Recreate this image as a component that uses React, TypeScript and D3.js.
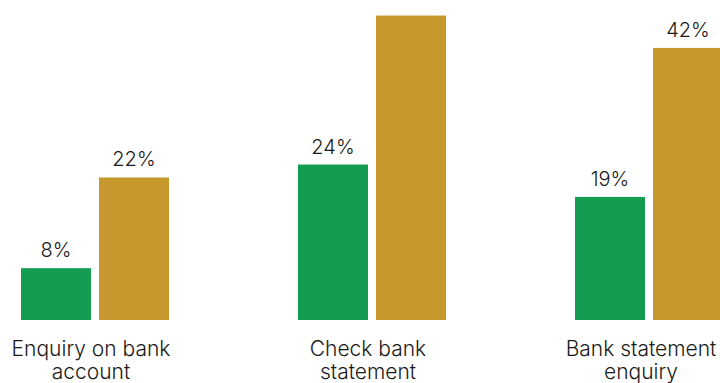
import React from "react";
import * as d3 from "d3";

const categories = [["Enquiry on bank", "account"], ["Check bank", "statement"], ["Bank statement", "enquiry"]];
const categoryKeys = ["Enquiry on bank account", "Check bank statement", "Bank statement enquiry"];
const seriesKeys = ["A", "B"];
const seriesA = [8, 24, 19];
const seriesB = [22, 47, 42];
const showLabelB = [true, false, true];
const colors = ["#139c52", "#c7982d"];

const W = 720;
const H = 383;

export default function App() {
  const x = d3.scalePoint<string>().domain(categoryKeys).range([95, 649]);
  const xInner = d3.scaleBand<string>().domain(seriesKeys).range([-74, 74]).paddingInner(8 / 78).paddingOuter(0);
  const y = d3.scaleLinear().domain([0, 49.4]).range([320, 0]);
  const series = [seriesA, seriesB];
  const font = "Inter, 'Noto Sans', sans-serif";

  return (
    <svg width={W} height={H} style={{ position: "absolute", left: 0, top: 0, background: "#fff" }} fontFamily={font}>
      {categoryKeys.map((c, i) => {
        const cx = x(c)!;
        const lx = Math.min(cx - 4, W - 79) - cx;
        return (
          <g key={c} transform={`translate(${cx},0)`}>
            {seriesKeys.map((s, si) => {
              const v = series[si][i];
              const bx = xInner(s)!;
              const bw = xInner.bandwidth();
              const show = si === 0 || showLabelB[i];
              return (
                <g key={s}>
                  <rect x={bx} y={y(v)} width={bw} height={y(0) - y(v)} fill={colors[si]} />
                  {show && (
                    <text x={bx + bw / 2} y={y(v) - 11} textAnchor="middle" fontSize={20} fontWeight={350} fill="#1a1a1a">
                      {v}%
                    </text>
                  )}
                </g>
              );
            })}
            <text textAnchor="middle" fontSize={21} fontWeight={350} fill="#1a1a1a">
              <tspan x={lx} y={356}>{categories[i][0]}</tspan>
              <tspan x={lx} y={379}>{categories[i][1]}</tspan>
            </text>
          </g>
        );
      })}
    </svg>
  );
}
